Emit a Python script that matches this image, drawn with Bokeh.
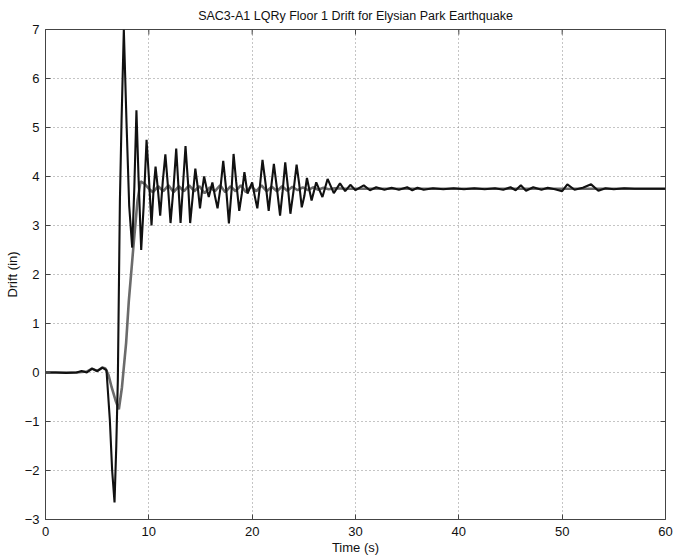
from bokeh.plotting import figure
from bokeh.models import FixedTicker, Range1d
from bokeh.embed import file_html
from bokeh.resources import INLINE

# ---- data ----
black_t = [0, 1, 2, 3, 3.5, 4.0, 4.5, 5.0, 5.5, 5.9, 6.23, 6.45, 6.68, 6.85, 7.0, 7.2, 7.36, 7.58, 7.84, 8.1,
           8.39, 8.6, 8.8, 9.0, 9.26, 9.5, 9.78, 10.0, 10.26, 10.45, 10.65, 10.85, 11.1, 11.35, 11.6, 11.85,
           12.1, 12.4, 12.65, 12.85, 13.07, 13.3, 13.55, 13.8, 14.0, 14.25, 14.5, 14.75, 14.95, 15.15, 15.35,
           15.6, 15.8, 16.15, 16.4, 16.65, 16.95, 17.2, 17.5, 17.75, 18.0, 18.2, 18.45, 18.75, 19.0, 19.25,
           19.55, 20.0, 20.25, 20.5, 20.75, 21.0, 21.3, 21.6, 21.85, 22.1, 22.4, 22.7, 22.95, 23.2, 23.45,
           23.7, 24.0, 24.3, 24.55, 24.8, 25.05, 25.3, 25.75, 26.2, 26.8, 27.3, 27.9, 28.5, 29.0,
           29.5, 30.0, 30.8, 31.4, 32.0, 32.8, 33.5, 34.2, 35.0, 35.5, 36.0, 36.6, 37.5, 38.5, 39.5, 40.5,
           41.5, 42.5, 43.5, 44.3, 45.0, 45.5, 46.0, 46.5, 47.2, 48.0, 48.6, 49.3, 50.0, 50.5, 51.2, 52.0,
           52.8, 53.5, 54.2, 55.0, 56.0, 57.0, 58.0, 59.0, 60.0]
black_d = [0.0, 0.0, -0.01, 0.0, 0.03, 0.0, 0.08, 0.03, 0.1, 0.05, -0.98, -2.0, -2.65, -1.5, -0.16, 3.5, 5.14, 7.0, 5.1, 3.4,
           2.55, 3.8, 5.35, 4.0, 2.5, 3.4, 4.75, 4.0, 3.0, 3.7, 4.2, 3.8, 3.2, 3.9, 4.45, 3.8,
           3.05, 3.8, 4.57, 3.85, 3.05, 3.8, 4.62, 3.85, 3.05, 3.6, 4.16, 3.75, 3.35, 3.7, 4.0,
           3.75, 3.58, 3.88, 3.6, 3.35, 3.8, 4.32, 3.7, 3.04, 3.7, 4.46, 3.9, 3.3, 3.65, 4.09,
           3.65, 3.88, 3.6, 3.35, 3.8, 4.34, 3.85, 3.3, 3.8, 4.26, 3.75, 3.2, 3.7, 4.29, 3.8,
           3.24, 3.7, 4.24, 3.85, 3.37, 3.6, 3.97, 3.51, 3.88, 3.58, 3.95, 3.66, 3.86, 3.7,
           3.83, 3.72, 3.82, 3.72, 3.78, 3.73, 3.77, 3.73, 3.78, 3.72, 3.77, 3.73, 3.76, 3.74, 3.76, 3.74,
           3.76, 3.74, 3.76, 3.73, 3.78, 3.72, 3.82, 3.71, 3.78, 3.73, 3.77, 3.74, 3.70, 3.84, 3.73, 3.77,
           3.84, 3.71, 3.76, 3.74, 3.76, 3.75, 3.75, 3.75, 3.75]

gray_t = [0, 1, 2, 3, 4.0, 4.5, 5.0, 5.5, 5.8, 6.1, 6.4, 6.78, 7.1, 7.4, 7.8, 8.06, 8.5, 8.9, 9.2, 9.6,
          10.0, 10.4, 10.9, 11.4, 11.9, 12.4, 12.9, 13.4, 13.9, 14.4, 14.9, 15.4, 15.9, 16.4, 16.9, 17.4,
          17.9, 18.4, 18.9, 19.4, 19.9, 20.4, 20.9, 21.4, 21.9, 22.4, 22.9, 23.4, 23.9, 24.4, 24.9, 25.4,
          25.9, 26.4, 26.9, 27.4, 28.0, 29.0, 30.0, 32.0, 35.0, 40.0, 45.0, 50.0, 55.0, 60.0]
gray_d = [0.0, 0.0, 0.0, 0.0, 0.02, 0.08, 0.03, 0.1, 0.08, -0.05, -0.3, -0.57, -0.75, -0.3, 0.6, 1.45, 2.55, 3.5, 3.9, 3.85,
          3.75, 3.68, 3.8, 3.7, 3.82, 3.68, 3.8, 3.7, 3.82, 3.7, 3.8, 3.66, 3.78, 3.7, 3.82, 3.68,
          3.8, 3.7, 3.82, 3.68, 3.8, 3.7, 3.82, 3.7, 3.79, 3.7, 3.8, 3.71, 3.79, 3.72, 3.78, 3.72,
          3.78, 3.73, 3.77, 3.74, 3.76, 3.75, 3.75, 3.75, 3.75, 3.75, 3.75, 3.75, 3.75, 3.75]

x_ticks = [0, 10, 20, 30, 40, 50, 60]
y_ticks = [-3, -2, -1, 0, 1, 2, 3, 4, 5, 6, 7]

FONT = "Liberation Sans"
X0, X1, Y0, Y1 = 0, 60, -3, 7
FRAME_W, FRAME_H = 620, 490

p = figure(width=674, height=558, output_backend="svg", toolbar_location=None,
           x_range=Range1d(X0, X1), y_range=Range1d(Y0, Y1),
           title="SAC3-A1 LQRy Floor 1 Drift for Elysian Park Earthquake",
           min_border_left=45, min_border_right=9, min_border_top=29, min_border_bottom=39)

p.title.align = "center"
p.title.text_font = FONT
p.title.text_font_size = "12.5px"
p.title.text_font_style = "normal"
p.title.text_color = "#111111"
p.title.standoff = 13

p.line(gray_t, gray_d, line_color="#6b6b6b", line_width=2.6)
p.line(black_t, black_d, line_color="#111111", line_width=2.1)

for ax in (p.xaxis[0], p.yaxis[0]):
    ax.major_tick_in = 5
    ax.major_tick_out = 0
    ax.minor_tick_line_color = None
    ax.axis_line_color = "#444444"
    ax.major_tick_line_color = "#444444"
    ax.major_label_text_font = FONT
    ax.major_label_text_font_size = "13px"
    ax.major_label_text_color = "#111111"
    ax.axis_label_text_font = FONT
    ax.axis_label_text_font_size = "13px"
    ax.axis_label_text_font_style = "normal"
    ax.axis_label_text_color = "#111111"

p.xaxis.ticker = FixedTicker(ticks=x_ticks)
p.yaxis.ticker = FixedTicker(ticks=y_ticks)
p.xaxis.axis_label = "Time (s)"
p.yaxis.axis_label = "Drift (in)"
p.xaxis.major_label_standoff = 7
p.xaxis.axis_label_standoff = 1
p.yaxis.major_label_standoff = 6
p.yaxis.axis_label_standoff = 2

# inward tick marks on the top and right edges of the box (5 px long)
tick_dy = 5 * (Y1 - Y0) / FRAME_H
tick_dx = 5 * (X1 - X0) / FRAME_W
p.segment(x0=x_ticks, y0=[Y1] * len(x_ticks), x1=x_ticks, y1=[Y1 - tick_dy] * len(x_ticks),
          line_color="#444444", line_width=1)
p.segment(x0=[X1] * len(y_ticks), y0=y_ticks, x1=[X1 - tick_dx] * len(y_ticks), y1=y_ticks,
          line_color="#444444", line_width=1)

p.outline_line_color = "#444444"
p.xgrid.ticker = FixedTicker(ticks=x_ticks)
p.ygrid.ticker = FixedTicker(ticks=y_ticks)
for g in (p.xgrid[0], p.ygrid[0]):
    g.grid_line_color = "#8a8a8a"
    g.grid_line_dash = "1 3"
    g.grid_line_width = 1

open("out.html", "w").write(file_html(p, INLINE))
